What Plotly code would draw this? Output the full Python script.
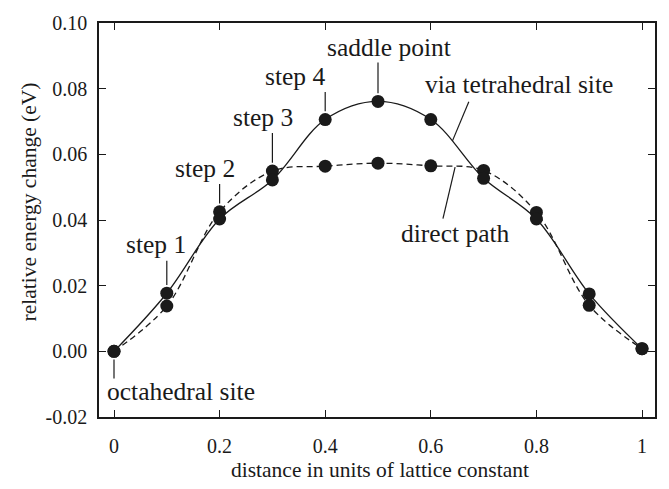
import plotly.graph_objects as go

# Migration path coordinate (units of lattice constant)
distance = [0.0, 0.1, 0.2, 0.3, 0.4, 0.5, 0.6, 0.7, 0.8, 0.9, 1.0]

# Relative energy change (eV) along each path
via_tetrahedral = [0.0000, 0.0177, 0.0403, 0.0522, 0.0706, 0.0761, 0.0706,
                   0.0527, 0.0403, 0.0175, 0.0008]
direct_path = [0.0000, 0.0138, 0.0425, 0.0549, 0.0564, 0.0573, 0.0565,
               0.0551, 0.0423, 0.0140, 0.0008]

x_tick_vals = [0, 0.2, 0.4, 0.6, 0.8, 1.0]
x_tick_text = ["0", "0.2", "0.4", "0.6", "0.8", "1"]
y_tick_vals = [-0.02, 0.0, 0.02, 0.04, 0.06, 0.08, 0.10]
y_tick_text = ["-0.02", "0.00", "0.02", "0.04", "0.06", "0.08", "0.10"]

FONT = "Liberation Serif, Times New Roman, Times, serif"
INK = "#1a1a1a"
W, H = 669, 489

fig = go.Figure()

fig.add_trace(go.Scatter(
    x=distance, y=direct_path, mode="lines+markers",
    line=dict(color=INK, width=1.3, dash="6px,4px", shape="spline", smoothing=1.0),
    marker=dict(color=INK, size=13),
    name="direct path", showlegend=False,
))
fig.add_trace(go.Scatter(
    x=distance, y=via_tetrahedral, mode="lines+markers",
    line=dict(color=INK, width=1.3, shape="spline", smoothing=1.0),
    marker=dict(color=INK, size=13),
    name="via tetrahedral site", showlegend=False,
))

# Leader lines from labels to the marked points
def leader(x0, y0, x1, y1):
    fig.add_shape(type="line", x0=x0, y0=y0, x1=x1, y1=y1, xref="x", yref="y",
                  line=dict(color=INK, width=1.2))

gap = 0.0025  # clearance above/below a marker
leader(distance[0], via_tetrahedral[0] - gap, distance[0], -0.0083)
leader(distance[1], via_tetrahedral[1] + gap, distance[1], 0.0276)
leader(distance[2], direct_path[2] + gap, distance[2], 0.0510)
leader(distance[3], direct_path[3] + gap, distance[3], 0.0665)
leader(distance[4], via_tetrahedral[4] + gap, distance[4], 0.0790)
leader(distance[5], via_tetrahedral[5] + gap, distance[5], 0.0880)
leader(0.641, 0.0641, 0.672, 0.0760)
leader(0.646, 0.0561, 0.623, 0.0404)

labels = [
    ("octahedral site", -0.017, -0.0122, "left"),
    ("step 1", 0.080, 0.0325, "center"),
    ("step 2", 0.172, 0.0556, "center"),
    ("step 3", 0.282, 0.0712, "center"),
    ("step 4", 0.343, 0.0836, "center"),
    ("saddle point", 0.521, 0.0924, "center"),
    ("via tetrahedral site", 0.767, 0.0814, "center"),
    ("direct path", 0.646, 0.0360, "center"),
]
for text, lx, ly, anchor in labels:
    fig.add_annotation(x=lx, y=ly, text=text, showarrow=False, xanchor=anchor,
                       yanchor="middle", font=dict(family=FONT, size=25.5, color=INK))

# Axis titles placed in paper space
title_font = dict(family=FONT, size=21.5, color=INK)
fig.add_annotation(text="distance in units of lattice constant", xref="paper", yref="paper",
                   x=(380 - 99) / (W - 99 - 14), y=-(471 - (H - 72)) / (H - 72 - 13),
                   xanchor="center", yanchor="middle", showarrow=False, font=title_font)
fig.add_annotation(text="relative energy change (eV)", xref="paper", yref="paper",
                   x=-(99 - 29) / (W - 99 - 14), y=((H - 72) - 197) / (H - 72 - 13),
                   xanchor="center", yanchor="middle", textangle=-90,
                   showarrow=False, font=title_font)

axis_common = dict(
    showline=True, linecolor=INK, linewidth=1.5, mirror="ticks",
    ticks="inside", ticklen=7, tickwidth=1.2, tickcolor=INK,
    showgrid=False, zeroline=False,
    tickfont=dict(family=FONT, size=20, color=INK),
)

fig.update_xaxes(
    range=[-0.0284, 1.0246], tickvals=x_tick_vals, ticktext=x_tick_text,
    ticklabelstandoff=10, **axis_common,
)
fig.update_yaxes(
    range=[-0.02, 0.10], tickvals=y_tick_vals, ticktext=y_tick_text,
    ticklabelstandoff=6, **axis_common,
)

fig.update_layout(
    width=W, height=H,
    margin=dict(l=99, r=14, t=13, b=72),
    paper_bgcolor="white", plot_bgcolor="white",
    font=dict(family=FONT, color=INK),
)

fig.write_html("out.html")
